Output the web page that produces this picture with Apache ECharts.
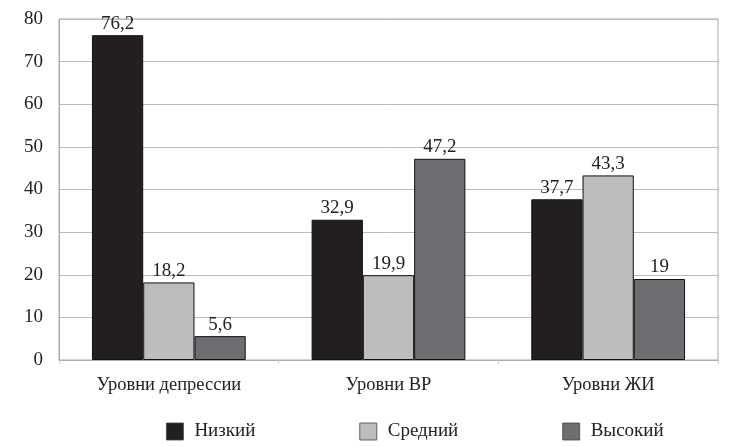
<!DOCTYPE html>
<html><head><meta charset="utf-8">
<script src="https://cdn.jsdelivr.net/npm/echarts@6/dist/echarts.min.js"></script>
<style>html,body{margin:0;padding:0;background:#fff}#c{width:743px;height:447px}</style>
</head><body><div id="c"></div>
<script>
var categories = ['Уровни депрессии', 'Уровни ВР', 'Уровни ЖИ'];
var seriesNames = ['Низкий', 'Средний', 'Высокий'];
var low = [76.2, 32.9, 37.7];
var mid = [18.2, 19.9, 43.3];
var high = [5.6, 47.2, 19];
var colors = ['#231f20', '#bdbdbd', '#6d6e71'];
var font = '"Liberation Serif", "DejaVu Serif", serif';
function fmt(p){ return String(p.value).replace('.', ','); }
function mk(name, data, color){
  return {
    name: name, type: 'bar', data: data, barGap: 0, barCategoryGap: '30%',
    itemStyle: {color: color, borderColor: '#111', borderWidth: 1},
    label: {show: true, position: 'top', formatter: fmt, fontFamily: font, fontSize: 19, color: '#222', distance: 2}
  };
}
var chart = echarts.init(document.getElementById('c'));
chart.setOption({
  animation: false,
  grid: {left: 59, right: 25, top: 19, bottom: 87, show: true, borderColor: '#aaa', borderWidth: 1},
  legend: {
    top: 417, left: 161, itemWidth: 17, itemHeight: 17, itemGap: 104,
    icon: 'rect',
    itemStyle: {borderWidth: 0.8, borderColor: '#444'},
    textStyle: {fontFamily: font, fontSize: 19, color: '#222', padding: [0, 0, 0, 6]},
    data: seriesNames
  },
  xAxis: {
    type: 'category', data: categories,
    axisLine: {lineStyle: {color: '#aaa'}},
    axisTick: {show: true, length: 4, lineStyle: {color: '#ccc'}},
    axisLabel: {fontFamily: font, fontSize: 18.5, color: '#222', margin: 16}
  },
  yAxis: {
    type: 'value', min: 0, max: 80, interval: 10,
    axisLine: {show: true, lineStyle: {color: '#aaa'}},
    splitLine: {lineStyle: {color: '#bbb'}},
    axisLabel: {fontFamily: font, fontSize: 19, color: '#222', margin: 16}
  },
  series: [mk(seriesNames[0], low, colors[0]), mk(seriesNames[1], mid, colors[1]), mk(seriesNames[2], high, colors[2])]
});
</script></body></html>
